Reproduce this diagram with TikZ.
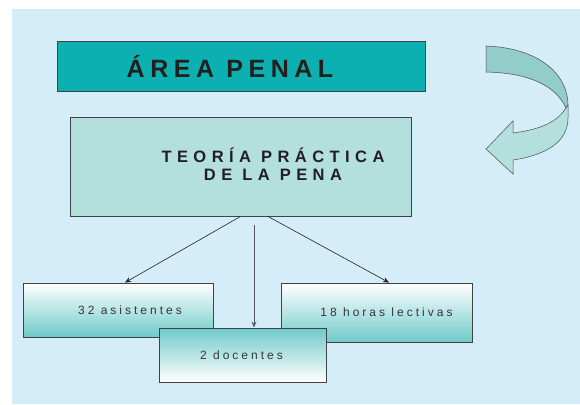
\documentclass[tikz,border=0pt]{standalone}
\usepackage{fontspec}
\setmainfont{Liberation Sans}
\usepackage{tikz}
\usetikzlibrary{arrows.meta}
\definecolor{bgblue}{HTML}{D5ECF9}
\definecolor{tealdark}{HTML}{0DB0B0}
\definecolor{teallight}{HTML}{B3DFDD}
\definecolor{tealmid}{HTML}{93CDCA}
\definecolor{tealgrad}{HTML}{6FCACA}
\definecolor{inkgray}{HTML}{231F20}

\begin{document}
\begin{tikzpicture}[x=1pt,y=-1pt,
    box/.style={draw=inkgray!85, line width=0.9pt, inner sep=0pt},
    downbox/.style={box, top color=white, middle color=tealgrad!25, bottom color=tealgrad},
    upbox/.style={box, top color=tealgrad, middle color=tealgrad!25, bottom color=white},
    small/.style={font=\fontsize{12}{14}\selectfont\addfontfeatures{LetterSpace=25}, text=inkgray!90},
    link/.style={draw=inkgray, line width=0.6pt, -{Stealth[length=6pt,width=5pt]}}]
    \useasboundingbox (0,0) rectangle (580,404);
    % Background
    \fill[bgblue] (12,9) rectangle (580,404);
    % Top boxes
    \node[box, fill=tealdark, minimum width=368pt, minimum height=50pt] (area) at (241,66) {};
    \node[font=\fontsize{25}{27}\selectfont\bfseries\addfontfeatures{LetterSpace=22}, text=inkgray] (areatxt) at (230,66) {ÁREA PENAL};
    \node[box, fill=teallight, minimum width=341pt, minimum height=99pt] (teoria) at (240.5,166.5) {};
    \node[font=\fontsize{16.5}{17.5}\selectfont\bfseries\addfontfeatures{LetterSpace=33}, text=inkgray, align=center] (teoriatxt) at (273,164) {TEORÍA PRÁCTICA\\DE LA PENA};
    % Curved arrow
    \draw[fill=tealmid, draw=inkgray!80, line width=0.5pt]
        (486,46) .. controls (540,48) and (568,75) .. (568,105)
        -- (566,108) .. controls (556,86) and (530,73) .. (486,72) -- cycle;
    \draw[fill=teallight, draw=inkgray!80, line width=0.5pt]
        (566,108) .. controls (556,124) and (536,130) .. (513,133)
        -- (513,121) -- (486,149) -- (513,174) -- (513,160)
        .. controls (546,155) and (568,142) .. (568,118) -- (568,105) -- cycle;
    % Bottom boxes
    \node[downbox, minimum width=190pt, minimum height=54pt,
        label={[small, name=asisttxt, xshift=12pt]center:32 asistentes}] (asist) at (118,310) {};
    \node[downbox, minimum width=191pt, minimum height=59pt,
        label={[small, name=horastxt, xshift=10pt]center:18 horas lectivas}] (horas) at (376.5,312.5) {};
    \node[upbox, minimum width=167pt, minimum height=54pt,
        label={[small, name=docentestxt, xshift=-1pt]center:2 docentes}] (docentes) at (242.5,355) {};
    % Arrows
    \draw[link] (teoria.south) -- ([xshift=7pt]asist.north);
    \draw[link] ([xshift=27.5pt]teoria.south) -- ([xshift=12.5pt]horas.north);
    \coordinate (midtop) at ([xshift=13.5pt, yshift=-9pt]teoria.south);
    \draw[link, draw=inkgray!75, line width=1pt] (midtop) -- (midtop |- docentes.north);
\end{tikzpicture}
\end{document}
